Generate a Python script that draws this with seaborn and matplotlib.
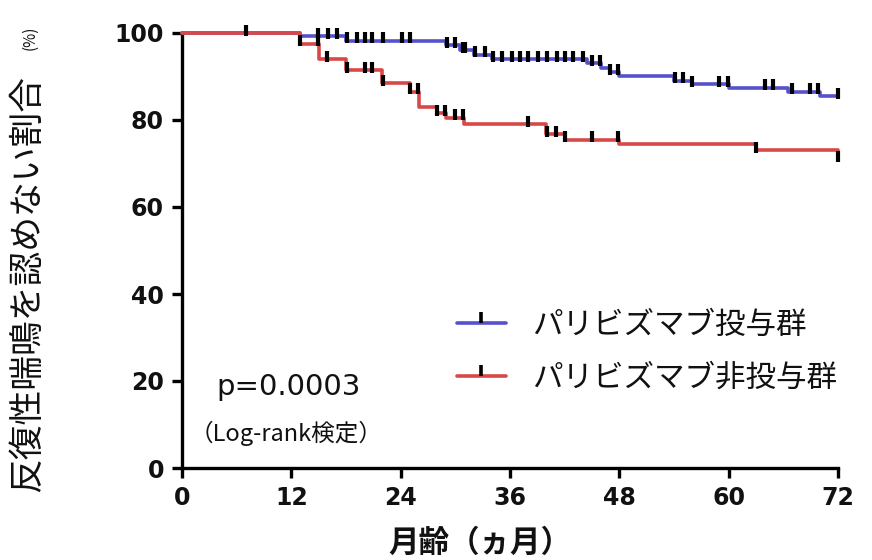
import numpy as np
import pandas as pd
import matplotlib
matplotlib.use('Agg')
import matplotlib.pyplot as plt
import seaborn as sns
from matplotlib.lines import Line2D

# 群ごとの生存曲線 (読み取り値)
groups = ['パリビズマブ投与群', 'パリビズマブ非投与群']
colors = ['#5552cc', '#d94848']

t_pal = [0, 13, 18, 29, 30.5, 32, 34, 44.5, 46, 47, 48, 54, 56, 60, 66.5, 70, 72]
s_pal = [100, 99.3, 98.2, 97.2, 96, 95, 94, 93, 92, 91, 90, 89, 88.3, 87.4, 86.5, 85.5, 85.5]
c_pal = [7, 14.9, 16, 17, 18.1, 19.2, 20.1, 20.9, 22.1, 24.1, 25, 29.1, 30, 30.8,
         31.1, 32.2, 33.3, 34.1, 35.1, 36.2, 37.1, 38, 39.1, 40.1, 41.2, 42, 42.9,
         44, 45, 45.9, 47, 47.8, 54.1, 55, 56, 58.9, 59.9, 64, 64.9, 67, 68.9, 69.8, 72]

t_non = [0, 13, 15, 18, 22, 25, 26, 28, 29, 31, 40, 42, 48, 63, 72]
s_non = [100, 97.5, 94, 91.5, 88.5, 86.5, 83, 81.5, 80.5, 79, 76.8, 75.5, 74.5, 73, 71]
c_non = [13, 14.9, 15.9, 18.1, 20.1, 20.9, 22.1, 25, 25.9, 28, 28.9, 30, 30.8,
         38, 40.1, 41.1, 42, 45, 47.9, 63, 72]

xticks = [0, 12, 24, 36, 48, 60, 72]
yticks = [0, 20, 40, 60, 80, 100]

sns.set_style('ticks')
plt.rcParams['font.family'] = ['Noto Sans CJK JP', 'DejaVu Sans']

fig = plt.figure(figsize=(8.72, 5.6), dpi=100)
ax = fig.add_axes([182 / 872, 92 / 560, 656 / 872, 435 / 560])

curves = [(t_pal, s_pal, c_pal), (t_non, s_non, c_non)]
for (t, s, c), name, col in zip(curves, groups, colors):
    df = pd.DataFrame({'month': t, 'surv': s})
    sns.lineplot(data=df, x='month', y='surv', drawstyle='steps-post', color=col,
                 lw=2.6, ax=ax, clip_on=False, zorder=3)
    # 打ち切り印
    idx = np.searchsorted(t, c, side='right') - 1
    ax.plot(c, np.array(s)[idx] - 0.6, ls='none', marker=2, ms=8, mew=3,
            color='black', clip_on=False, zorder=4)

ax.set_xlim(0, 72)
ax.set_ylim(0, 100)
ax.set_xticks(xticks)
ax.set_yticks(yticks)
ax.set_xlabel('')
ax.set_ylabel('')
sns.despine(ax=ax)
for sp in ['left', 'bottom']:
    ax.spines[sp].set_linewidth(2.4)
    ax.spines[sp].set_color('black')
ax.tick_params(length=7, width=2.4, color='black', pad=6)
for lab in ax.get_xticklabels() + ax.get_yticklabels():
    lab.set_fontfamily(['DejaVu Sans'])
    lab.set_fontweight('bold')
    lab.set_fontsize(17)
    lab.set_color('#111111')

fig.text(480 / 872, 1 - 543 / 560, '月齢（ヵ月）', ha='center', va='center',
         fontsize=22, fontweight='bold', color='#111111')
fig.text(28 / 872, 1 - 492 / 560, '反復性喘鳴を認めない割合', rotation=90,
         ha='center', va='bottom', fontsize=25, color='#111111')
fig.text(30 / 872, 1 - 50 / 560, '(%)', rotation=90,
         ha='center', va='bottom', fontsize=11, color='#111111')

ax.text(3.8, 18.6, 'p=0.0003', fontsize=21, va='center', family=['DejaVu Sans'],
        color='#111111')
ax.text(0.8, 8.0, '（Log-rank検定）', fontsize=17, va='center', color='#111111')

handles = [Line2D([], [], color=col, lw=2.6, marker=2, mec='black', ms=8, mew=2.6)
           for col in colors]
fig.legend(handles, groups, loc='upper left', bbox_to_anchor=(457 / 872, 1 - 310 / 560),
           frameon=False, fontsize=22, handlelength=1.6, handletextpad=0.85,
           labelspacing=0.7, borderpad=0, borderaxespad=0, numpoints=1,
           labelcolor='#111111')

fig.savefig('out.png', dpi=100)
